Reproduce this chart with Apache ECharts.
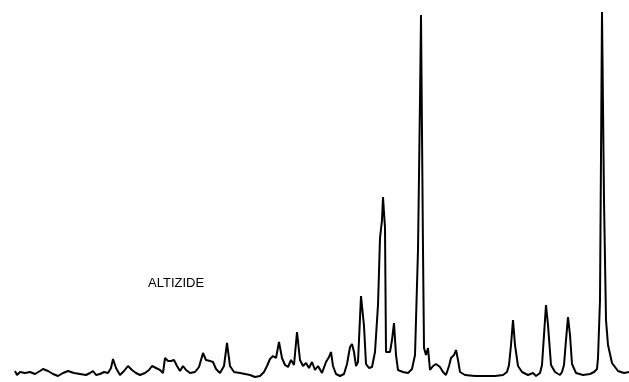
<!DOCTYPE html>
<html>
<head>
<meta charset="utf-8">
<script src="https://cdn.jsdelivr.net/npm/echarts@6/dist/echarts.min.js"></script>
<style>
  html, body { margin: 0; padding: 0; background: #fff; }
  #chart { width: 629px; height: 382px; }
</style>
</head>
<body>
<div id="chart"></div>
<script>
// trace position (horizontal) and signal height above the bottom edge
const positions = [15, 17, 20, 25, 30, 35, 40, 43, 48, 53, 58, 63, 68, 74, 80, 86, 90, 93, 96, 100,
  104, 108, 111, 113, 116, 120, 124, 128, 132, 136, 140, 145, 149, 152, 156, 160, 163, 165, 168, 171,
  174, 177, 180, 183, 186, 190, 195, 199, 203, 206, 210, 213, 216, 220, 224, 227, 230, 234, 240, 245,
  250, 255, 260, 264, 267, 270, 273, 276, 279, 282, 285, 288, 291, 294, 297, 300, 303, 306, 309, 312,
  315, 318, 322, 326, 329, 331, 333, 336, 340, 344, 347, 350, 352, 354, 356, 358, 361, 364, 366, 369,
  372, 375, 378, 380, 382, 383, 385, 386, 388, 390, 392, 394, 396, 398, 403, 408, 412, 415, 418, 420,
  421, 423, 424, 426, 428, 430, 433, 436, 440, 443, 446, 449, 451, 454, 456, 458, 460, 465, 475, 485,
  495, 503, 507, 509, 511, 513, 515, 518, 522, 528, 533, 536, 540, 542, 544, 546, 548, 551, 555, 560, 562, 564, 566,
  568, 570, 572, 576, 583, 590, 594, 597, 598, 600, 602, 604, 606, 608, 612, 618, 624, 629];
const heights = [11, 7, 10, 9, 10, 8, 11, 13, 11, 8, 6, 9, 11, 9, 8, 7, 9, 11, 7, 8,
  10, 9, 14, 23, 14, 7, 11, 16, 12, 9, 7, 9, 12, 16, 14, 12, 9, 24, 21, 21,
  22, 16, 11, 16, 12, 9, 10, 15, 29, 22, 21, 20, 13, 9, 16, 39, 16, 10, 9, 8,
  7, 5, 6, 10, 16, 23, 26, 24, 40, 24, 17, 15, 22, 17, 50, 22, 16, 19, 14, 20,
  12, 16, 9, 20, 25, 30, 16, 8, 6, 8, 18, 35, 38, 30, 16, 20, 86, 56, 18, 14,
  15, 30, 77, 144, 162, 185, 154, 30, 32, 30, 42, 59, 27, 12, 10, 9, 13, 27, 132, 282,
  367, 132, 34, 27, 34, 12, 16, 18, 15, 10, 7, 16, 24, 27, 32, 22, 10, 7, 6, 6,
  6, 7, 10, 17, 37, 62, 37, 16, 10, 7, 9, 6, 9, 17, 47, 77, 57, 17, 10, 7, 10, 17, 42,
  65, 47, 18, 9, 7, 8, 10, 13, 24, 82, 370, 182, 62, 37, 19, 11, 9, 10];
const compoundName = 'ALTIZIDE';

const chart = echarts.init(document.getElementById('chart'));

chart.setOption({
  animation: false,
  grid: { left: 0, right: 0, top: 0, bottom: 0 },
  xAxis: { type: 'value', min: 0, max: 629, show: false },
  yAxis: { type: 'value', min: 0, max: 382, show: false },
  graphic: [{
    type: 'text',
    left: 148,
    top: 277,
    style: { text: compoundName, fill: '#000', font: '13px "Liberation Sans", Arial, sans-serif' }
  }],
  series: [{
    type: 'line',
    data: positions.map((x, i) => [x, heights[i]]),
    showSymbol: false,
    smooth: false,
    lineStyle: { color: '#000', width: 2 }
  }]
});
</script>
</body>
</html>
